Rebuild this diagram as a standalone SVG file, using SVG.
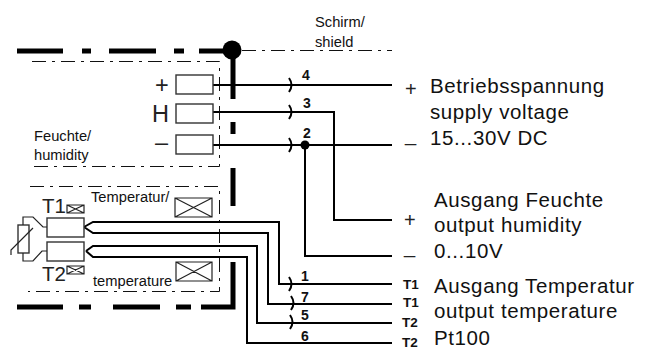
<svg xmlns="http://www.w3.org/2000/svg" width="654" height="351" viewBox="0 0 654 351">
<style>
text{font-family:"Liberation Sans",Arial,sans-serif;fill:#111}
.t{font-size:20.5px;letter-spacing:.6px}.p{font-size:20px;fill:#222}.s{font-size:14.7px}.n{font-size:14px;font-weight:bold}.b{font-size:13.5px;font-weight:bold}.m{font-size:23.5px;fill:#222}.q{font-size:20.5px;fill:#222}
.w{fill:none;stroke:#000;stroke-width:2}
.k{fill:none;stroke:#000;stroke-width:5}
.d{fill:none;stroke:#111;stroke-width:1;stroke-dasharray:14 6 3 6}
.x{fill:#fff;stroke:#333;stroke-width:1.4}
.c{fill:none;stroke:#222;stroke-width:1.2}
.a{fill:none;stroke:#000;stroke-width:2}
</style>
<g id="shield">
<path class="k" d="M17 51H63M82 51H91M109 51H156M174 51H184M199 51H232M233 50V99M233 122V134M233 168V206M233 262V307H201M191 307H176M160 307H113M91 307H79M63 307H17"/>
<circle cx="232" cy="50" r="9.5"/>
<path class="d" d="M242 50.500H392"/>
</g>
<g id="humidity-frame"><path class="d" d="M32 61.500H219.500V166.500H30"/></g>
<g id="temperature-frame"><path class="d" d="M30 186.500H219.500V291.500H28"/></g>
<g id="connectors">
<path class="w" d="M213 85H392M213 112H334V220H392M213 145H392M305 145V256H392"/>
<circle cx="305" cy="145" r="4.5"/>
<path class="w" d="M84 227L93 222H279V284H392M84 227L93 233H268V304H392M86 251L93 246H257V323H392M86 251L93 257H247V343H392"/>
<path class="a" d="M289 78Q294 85 289 92M289 105Q294 112 289 119M289 138Q294 145 289 152M289 277Q294 284 289 291M291 296Q296 303 291 310M290 315Q295 322 290 329"/>
</g>
<g id="terminal-plus"><rect class="x" x="176" y="75" width="37" height="19"/><text class="m" x="155" y="93">+</text></g>
<g id="terminal-h"><rect class="x" x="176" y="104" width="37" height="19"/><text class="m" x="152" y="122">H</text></g>
<g id="terminal-minus"><rect class="x" x="176" y="135" width="37" height="19"/><text class="m" x="155" y="150">–</text></g>
<g id="terminal-t1"><rect class="x" x="47" y="218" width="37" height="19"/><text class="q" x="42" y="213">T1</text></g>
<g id="terminal-t2"><rect class="x" x="47" y="242" width="37" height="19"/><text class="q" x="42" y="281">T2</text></g>
<g id="cross-boxes">
<path class="c" d="M67 205H84V213H67ZM67 205L84 213M67 213L84 205M67 266H84V274H67ZM67 266L84 274M67 274L84 266M175 198H212V217H175ZM175 198L212 217M175 217L212 198M176 262H212V281H176ZM176 262L212 281M176 281L212 262"/>
</g>
<g id="sensor">
<rect class="x" x="18" y="225" width="11" height="28"/>
<path class="c" d="M23 225V217H33L43 227H47M23 253V261H33L42 251H47M11 255V250L33 228"/>
</g>
<g id="labels">
<text class="s" x="315" y="27">Schirm/</text>
<text class="s" x="315" y="47">shield</text>
<text class="s" x="34" y="141">Feuchte/</text>
<text class="s" x="34" y="160">humidity</text>
<text class="s" x="91" y="202">Temperatur/</text>
<text class="s" x="93" y="286">temperature</text>
<text class="n" x="302" y="80">4</text><text class="n" x="303" y="108">3</text><text class="n" x="303" y="138">2</text>
<text class="n" x="301" y="281">1</text><text class="n" x="301" y="302">7</text><text class="n" x="301" y="320">5</text><text class="n" x="301" y="341">6</text>
<text class="p" x="405" y="96">+</text><text class="p" x="405" y="141">_</text>
<text class="p" x="404" y="227">+</text><text class="p" x="404" y="253">_</text>
<text class="b" x="403" y="289">T1</text><text class="b" x="403" y="307">T1</text><text class="b" x="402" y="327">T2</text><text class="b" x="402" y="347">T2</text>
<text class="t" x="430" y="93">Betriebsspannung</text>
<text class="t" x="430" y="119">supply voltage</text>
<text class="t" x="430" y="145">15...30V DC</text>
<text class="t" x="434" y="207">Ausgang Feuchte</text>
<text class="t" x="434" y="232">output humidity</text>
<text class="t" x="434" y="258">0...10V</text>
<text class="t" x="434" y="293">Ausgang Temperatur</text>
<text class="t" x="434" y="318">output temperature</text>
<text class="t" x="434" y="345">Pt100</text>
</g>
</svg>
